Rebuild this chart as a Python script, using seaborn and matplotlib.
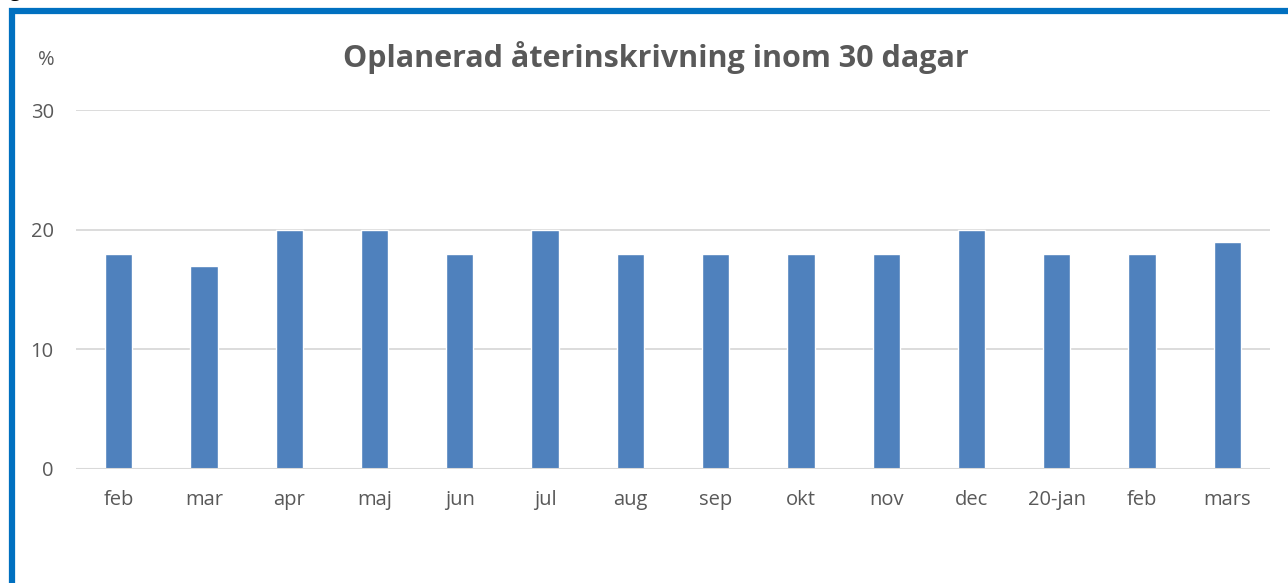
import pandas as pd
import seaborn as sns
import matplotlib.pyplot as plt
from matplotlib.patches import Rectangle

months = ["feb", "mar", "apr", "maj", "jun", "jul", "aug", "sep", "okt",
          "nov", "dec", "20-jan", "feb", "mars"]
values = [18, 17, 20, 20, 18, 20, 18, 18, 18, 18, 20, 18, 18, 19]
yticks = [0, 10, 20, 30]

# duplicate month names ("feb") need unique keys for seaborn
df = pd.DataFrame({"key": [f"{i}" for i in range(len(months))],
                   "value": values})

sns.set_style("white")
plt.rcParams["font.family"] = ["Open Sans", "DejaVu Sans"]

fig = plt.figure(figsize=(12.88, 5.83), dpi=100)
ax = fig.add_axes([76 / 1288, 1 - 469 / 583, 1194 / 1288, 359 / 583])

sns.barplot(data=df, x="key", y="value", color="#4F81BD", width=0.32,
            saturation=1, ax=ax, zorder=3)

ax.set_ylim(0, 30)
ax.set_xlim(-0.5, len(months) - 0.5)
ax.set_yticks(yticks)
ax.set_xticks(range(len(months)))
ax.set_xticklabels(months)
ax.tick_params(axis="both", length=0, labelsize=14.5, colors="#595959")
ax.tick_params(axis="x", pad=15)
ax.tick_params(axis="y", pad=16)
for t in ax.get_yticklabels():
    t.set_horizontalalignment("right")
ax.yaxis.grid(True, color="#D9D9D9", linewidth=1.3, zorder=0)
ax.set_xlabel("")
ax.set_ylabel("")
for s in ax.spines.values():
    s.set_visible(False)
ax.axhline(0, color="#D9D9D9", linewidth=1.5, zorder=4)

fig.text(656 / 1288, 1 - 57 / 583, "Oplanerad återinskrivning inom 30 dagar",
         ha="center", va="center", fontsize=22, fontweight="bold",
         color="#595959")
fig.text(46 / 1288, 1 - 60 / 583, "%", ha="center", va="center",
         fontsize=14.5, color="#595959")

# blue frame around the slide area (left and top edges visible)
fig.add_artist(Rectangle((12.5 / 1288, -0.1), 1.2, 1 - 11 / 583 + 0.1,
                         transform=fig.transFigure, fill=False,
                         edgecolor="#0070C0", linewidth=4.5, clip_on=False))
fig.text(15 / 1288, 1 + 9 / 583, "g", ha="center", va="center",
         fontsize=14, fontweight="bold", color="black")

fig.savefig("out.png", dpi=100)
